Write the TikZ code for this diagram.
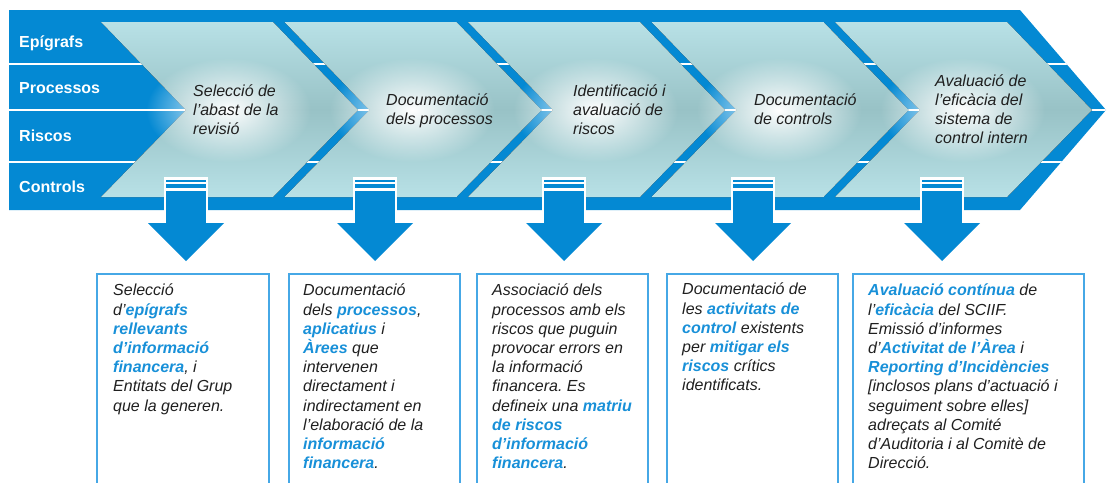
\documentclass[tikz,border=0pt]{standalone}
\usepackage{fontspec}
\setmainfont{Liberation Sans}
\usepackage{xcolor}
\usetikzlibrary{fadings}
\definecolor{bandblue}{RGB}{4,137,211}
\definecolor{keyblue}{RGB}{24,144,216}
\definecolor{boxblue}{RGB}{70,168,230}
\definecolor{chevlight}{RGB}{184,225,230}
\definecolor{chevdark}{RGB}{152,194,198}
\newcommand{\kw}[1]{{\color{keyblue}\bfseries #1}}
\tikzfading[name=glow, inner color=transparent!0, outer color=transparent!100]
\frenchspacing

\begin{document}
\begin{tikzpicture}[x=1pt,y=-1pt,
                rowlabel/.style={text=white,anchor=base west,inner sep=0pt,
                        font=\fontsize{16}{19}\selectfont\bfseries},
                steptext/.style={align=left,anchor=north west,inner sep=0pt,text=black!88,
                        font=\fontsize{16}{19}\selectfont\itshape},
                desctext/.style={align=left,anchor=north west,inner sep=0pt,text=black!88,
                        font=\fontsize{16}{19.2}\selectfont\itshape},
                chevron/.style={top color=chevlight,bottom color=chevlight,middle color=chevdark},
                descbox/.style={draw=boxblue,line width=1.2pt}]
                \useasboundingbox (0,0) rectangle (1107,482);
                \clip (0,0) rectangle (1107,482);
                \fill[bandblue] (9,10) -- (1020,10) -- (1106,110) -- (1020,210) -- (9,210) -- cycle;
                \begin{scope}
                    \clip (9,10) -- (1020,10) -- (1106,110) -- (1020,210) -- (9,210) -- cycle;
                    \foreach \y in {64,110,162}
                        \draw[white,line width=2pt] (9,\y) -- (1107,\y);
                \end{scope}
                \foreach \x in {101,284.5,468,651.5,835}{
                    \fill[chevron] (\x,22) -- ++(172,0) -- ++(85,88) -- ++(-85,87) -- ++(-172,0) -- ++(85,-87) -- cycle;
                    \fill[white,path fading=glow] (\x+45,58) rectangle (\x+210,162);
                }
                \node[rowlabel] (epigrafs) at (19,47) {Epígrafs};
                \node[rowlabel] (processos) at (19,93) {Processos};
                \node[rowlabel] (riscos) at (19,141) {Riscos};
                \node[rowlabel] (controls) at (19,192) {Controls};
                \node[steptext] (fase1) at (193,85) {Selecció de\\l'abast de la\\revisió};
                \node[steptext] (fase2) at (386,94) {Documentació\\dels processos};
                \node[steptext] (fase3) at (573,85) {Identificació i\\avaluació de\\riscos};
                \node[steptext] (fase4) at (754,94) {Documentació\\de controls};
                \node[steptext] (fase5) at (935,75) {Avaluació de\\l'eficàcia del\\sistema de\\control intern};
                \foreach \i/\cx in {1/186,2/375,3/564,4/753,5/942}{
                    \coordinate (baixa\i) at (\cx,177);
                    \fill[white] (\cx-22,177) rectangle (\cx+22,224);
                    \fill[bandblue] (\cx-20,180) rectangle (\cx+20,181.5);
                    \fill[bandblue] (\cx-20,184) rectangle (\cx+20,187.5);
                    \fill[bandblue] (\cx-20,191) rectangle (\cx+20,224);
                    \fill[bandblue] (\cx-38,223) -- (\cx+38,223) -- (\cx,261) -- cycle;
                }
                \foreach \l/\r in {97/269,289/460,477/648,667/838,853/1084}
                    \draw[descbox] (\l,490) |- (\r,274) -- (\r,490);
                \node[desctext] (desc1) at (113,284) {Selecció\\
                        d'\kw{epígrafs}\\
                        \kw{rellevants}\\
                        \kw{d'informació}\\
                        \kw{financera}, i\\
                        Entitats del Grup\\
                        que la generen.};
                \node[desctext] (desc2) at (303,284) {Documentació\\
                        dels \kw{processos},\\
                        \kw{aplicatius} i\\
                        \kw{Àrees} que\\
                        intervenen\\
                        directament i\\
                        indirectament en\\
                        l'elaboració de la\\
                        \kw{informació}\\
                        \kw{financera}.};
                \node[desctext] (desc3) at (492,284) {Associació dels\\
                        processos amb els\\
                        riscos que puguin\\
                        provocar errors en\\
                        la informació\\
                        financera. Es\\
                        defineix una \kw{matriu}\\
                        \kw{de riscos}\\
                        \kw{d'informació}\\
                        \kw{financera}.};
                \node[desctext] (desc4) at (682,283) {Documentació de\\
                        les \kw{activitats de}\\
                        \kw{control} existents\\
                        per \kw{mitigar els}\\
                        \kw{riscos} crítics\\
                        identificats.};
                \node[desctext] (desc5) at (868,284) {\kw{Avaluació contínua} de\\
                        l'\kw{eficàcia} del SCIIF.\\
                        Emissió d'informes\\
                        d'\kw{Activitat de l'Àrea} i\\
                        \kw{Reporting d'Incidències}\\
                        {[}inclosos plans d'actuació i\\
                        seguiment sobre elles{]}\\
                        adreçats al Comité\\
                        d'Auditoria i al Comitè de\\
                        Direcció.};
            \end{tikzpicture}
\end{document}
